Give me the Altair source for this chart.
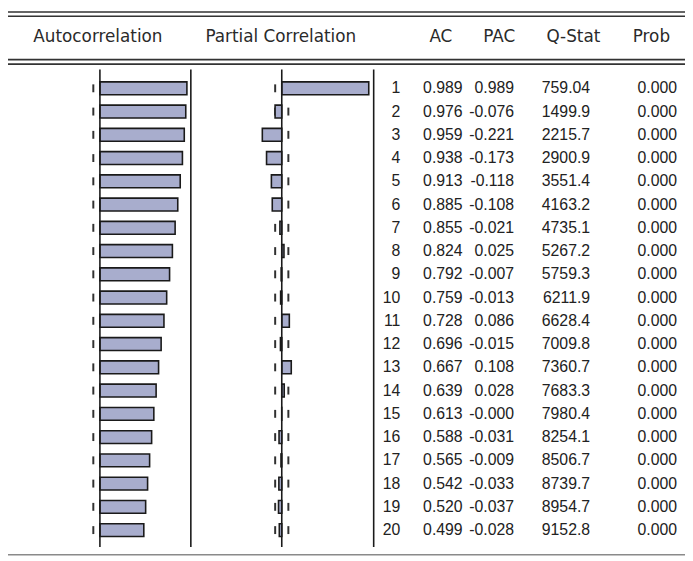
import altair as alt
import pandas as pd

# ---- data ----
lags = list(range(1, 21))
ac = [0.989, 0.976, 0.959, 0.938, 0.913, 0.885, 0.855, 0.824, 0.792, 0.759,
      0.728, 0.696, 0.667, 0.639, 0.613, 0.588, 0.565, 0.542, 0.520, 0.499]
pac = [0.989, -0.076, -0.221, -0.173, -0.118, -0.108, -0.021, 0.025, -0.007, -0.013,
       0.086, -0.015, 0.108, 0.028, -0.0004, -0.031, -0.009, -0.033, -0.037, -0.028]
qstat = [759.04, 1499.9, 2215.7, 2900.9, 3551.4, 4163.2, 4735.1, 5267.2, 5759.3, 6211.9,
         6628.4, 7009.8, 7360.7, 7683.3, 7980.4, 8254.1, 8506.7, 8739.7, 8954.7, 9152.8]
prob = [0.0] * 20
bound = 0.075  # approx 2/sqrt(T)
headers = ["Autocorrelation", "Partial Correlation", "AC", "PAC", "Q-Stat", "Prob"]

df = pd.DataFrame({
    "lag": lags,
    "ac": ac,
    "pac": pac,
    "zero": [0.0] * 20,
    "lo": [-bound] * 20,
    "hi": [bound] * 20,
    "lag_t": [str(l) for l in lags],
    "ac_t": [f"{v:.3f}" for v in ac],
    "pac_t": [f"{v:.3f}" for v in pac],
    "q_t": [f"{v:.5g}" for v in qstat],
    "p_t": [f"{v:.3f}" for v in prob],
})

W, H = 685, 553
FONT = "Liberation Sans"
HFONT = "DejaVu Sans"
FS = 16
TXT = "#222222"
BAR_FILL = "#A8ADCD"
LINE = "#1a1a1a"

ac_scale = alt.Scale(domain=[-1, 1], range=[4, 182])
pac_scale = alt.Scale(domain=[-1, 1], range=[188, 366])
y_scale = alt.Scale(domain=[1, 20], range=[73, 530], nice=False, zero=False)

base = alt.Chart(df)
one = alt.Chart(pd.DataFrame({"k": [0]}))

Y = alt.Y("lag:Q", scale=y_scale, axis=None)

layers = []

# confidence-bound dashes
for col, sc in [("lo", ac_scale), ("hi", ac_scale), ("lo", pac_scale), ("hi", pac_scale)]:
    layers.append(
        base.mark_tick(orient="vertical", size=8, thickness=2, color=LINE, opacity=0.9)
        .encode(x=alt.X(f"{col}:Q", scale=sc, axis=None), y=Y)
    )

# bars
for col, sc in [("ac", ac_scale), ("pac", pac_scale)]:
    layers.append(
        base.mark_bar(size=13, fill=BAR_FILL, stroke=LINE, strokeWidth=1.6, orient="horizontal")
        .encode(x=alt.X(f"{col}:Q", scale=sc, axis=None), x2="zero:Q", y=Y)
    )

# vertical lines
for xv in [93, 185, 277, 370]:
    layers.append(
        one.mark_rule(color=LINE, strokeWidth=1.6)
        .encode(x=alt.value(xv), y=alt.value(59), y2=alt.value(542))
    )

# horizontal lines
for yv, c, sw in [(0.8, "#333333", 1.6), (5, "#333333", 1.6), (49, "#333333", 1.6),
                  (53.5, "#333333", 1.6), (550, "#8a8a8a", 1.5)]:
    layers.append(
        one.mark_rule(color=c, strokeWidth=sw)
        .encode(x=alt.value(0), x2=alt.value(W), y=alt.value(yv))
    )

# header texts
for label, xc in zip(headers, [91, 276, 438, 497, 572, 651]):
    layers.append(
        one.mark_text(font=HFONT, fontSize=17, color="#2a2a2a", align="center", baseline="middle")
        .encode(x=alt.value(xc), y=alt.value(26), text=alt.value(label))
    )

# table columns
for col, xr in [("lag_t", 397), ("ac_t", 460), ("pac_t", 512), ("q_t", 589), ("p_t", 677)]:
    layers.append(
        base.mark_text(font=FONT, fontSize=FS, color=TXT, align="right", baseline="middle")
        .encode(x=alt.value(xr), y=Y, text=f"{col}:N")
    )

chart = (
    alt.layer(*layers)
    .resolve_scale(x="independent")
    .properties(width=W, height=H, padding=0, autosize=alt.AutoSizeParams(type="none"),
                background="white")
    .configure_view(stroke=None)
)

chart.save("out.html", embed_options={"renderer": "svg", "actions": False})
